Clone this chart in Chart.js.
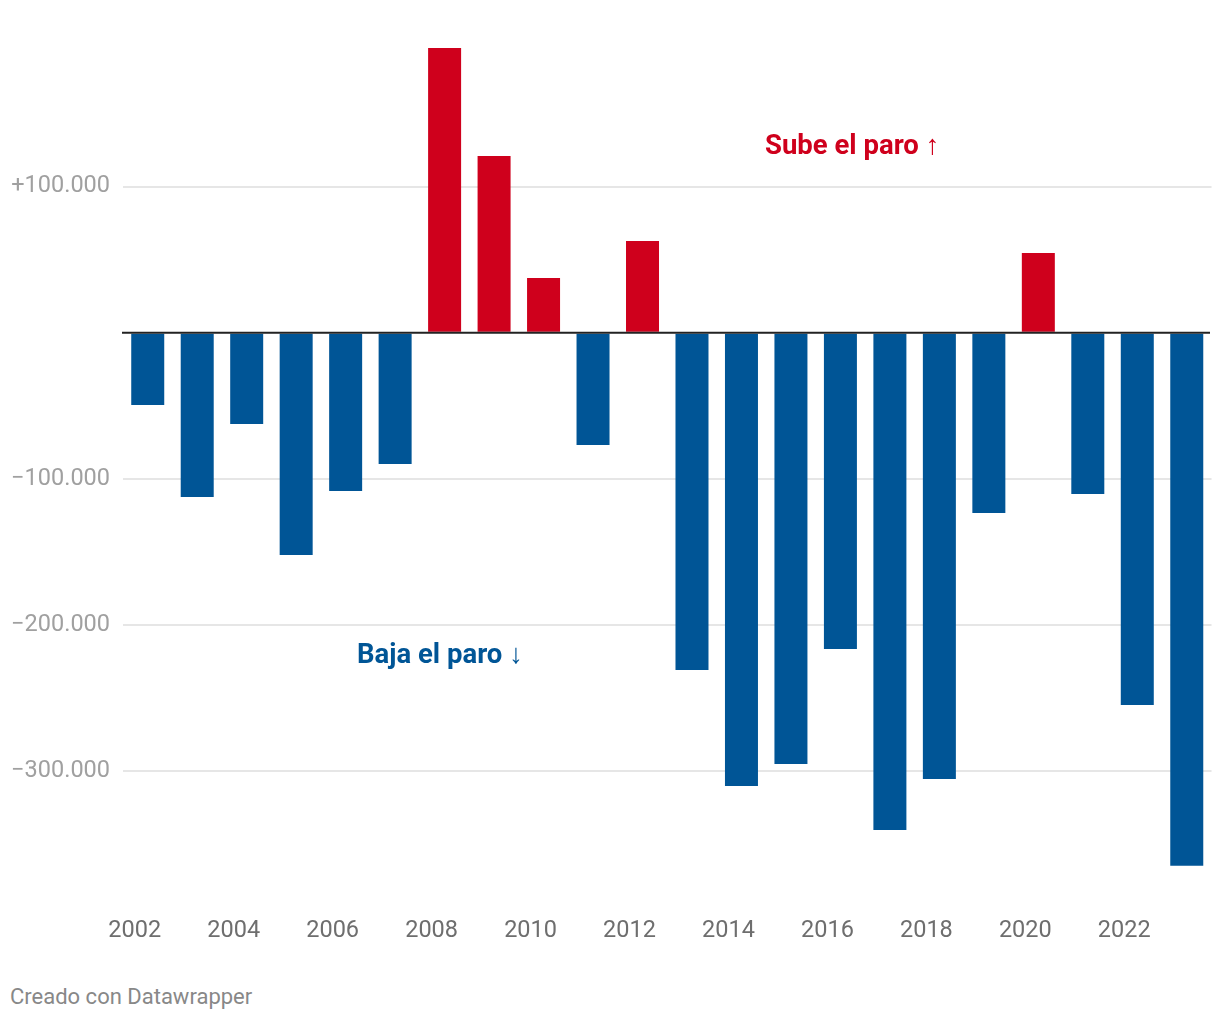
<!DOCTYPE html>
<html>
<head>
<meta charset="utf-8">
<script src="https://cdn.jsdelivr.net/npm/chart.js@4"></script>
<style>
  html, body { margin: 0; padding: 0; background: #fff; }
  #wrap { position: absolute; left: 0; top: 0; width: 1220px; height: 960px; }
  #footer { position: absolute; left: 10px; top: 984px; font: 22px Roboto, sans-serif; color: #888; }
</style>
</head>
<body>
<div id="wrap"><canvas id="chart"></canvas></div>
<div id="footer">Creado con Datawrapper</div>
<script>
// datos: variación anual del paro
const years = ['2002','2003','2004','2005','2006','2007','2008','2009','2010','2011','2012',
  '2013','2014','2015','2016','2017','2018','2019','2020','2021','2022','2023'];
const change = [-49500, -112500, -62500, -152200, -108400, -89900, 194900, 120900, 37400, -76900, 62800,
  -230900, -310300, -295200, -216500, -340400, -305500, -123400, 54600, -110400, -254800, -364800];
const yTicks = [-300000, -200000, -100000, 0, 100000];

// anotaciones (x en índice de categoría, y en valor)
const notes = [
  { text: 'Sube el paro \u2191', x: 12.476, y: 127300, color: '#cf001c' },
  { text: 'Baja el paro \u2193', x: 4.23, y: -221600, color: '#005596' }
];

const RED = '#cf001c';
const BLUE = '#005596';

function fmt(v) {
  const s = Math.abs(v).toString().replace(/\B(?=(\d{3})+(?!\d))/g, '.');
  if (v > 0) return '+' + s;
  if (v < 0) return '\u2212' + s;
  return '';
}

const extras = {
  id: 'extras',
  afterDatasetsDraw(chart) {
    const ctx = chart.ctx;
    const x = chart.scales.x, y = chart.scales.y;
    const area = chart.chartArea;
    ctx.save();
    // linea base en cero
    const y0 = y.getPixelForValue(0);
    ctx.strokeStyle = '#222';
    ctx.lineWidth = 2;
    ctx.beginPath();
    ctx.moveTo(area.left - 1, y0);
    ctx.lineTo(area.right - 1.5, y0);
    ctx.stroke();
    // anotaciones
    ctx.font = 'bold 27.5px Roboto';
    ctx.textAlign = 'left';
    ctx.textBaseline = 'middle';
    notes.forEach(n => {
      ctx.fillStyle = n.color;
      ctx.fillText(n.text, x.getPixelForValue(n.x), y.getPixelForValue(n.y));
    });
    ctx.restore();
  }
};

new Chart(document.getElementById('chart'), {
  type: 'bar',
  data: {
    labels: years,
    datasets: [{
      data: change,
      backgroundColor: change.map(v => v >= 0 ? RED : BLUE),
      borderWidth: 0,
      categoryPercentage: 1,
      barPercentage: 0.667
    }]
  },
  options: {
    responsive: true,
    maintainAspectRatio: false,
    animation: false,
    layout: { padding: { top: 40.5, left: 10, right: 8.5, bottom: 0 } },
    plugins: { legend: { display: false }, tooltip: { enabled: false } },
    scales: {
      x: {
        grid: { display: false },
        border: { display: false },
        afterFit: s => { s.height = 72.1; },
        ticks: {
          autoSkip: false,
          maxRotation: 0,
          labelOffset: -13,
          padding: 21,
          color: '#6e6e6e',
          font: { family: 'Roboto', size: 23.5 },
          callback: (v, i) => i % 2 === 0 ? years[i] : ''
        }
      },
      y: {
        min: -380000,
        max: 200000,
        afterBuildTicks: s => { s.ticks = yTicks.map(v => ({ value: v })); },
        afterFit: s => { s.width = 113; },
        border: { display: false },
        grid: {
          drawTicks: false,
          lineWidth: 2,
          color: c => c.tick && c.tick.value === 0 ? 'rgba(0,0,0,0)' : '#e6e6e6'
        },
        ticks: {
          padding: 13,
          color: '#a0a0a0',
          font: { family: 'Roboto', size: 23.5 },
          callback: v => fmt(v)
        }
      }
    }
  },
  plugins: [extras]
});
</script>
</body>
</html>
